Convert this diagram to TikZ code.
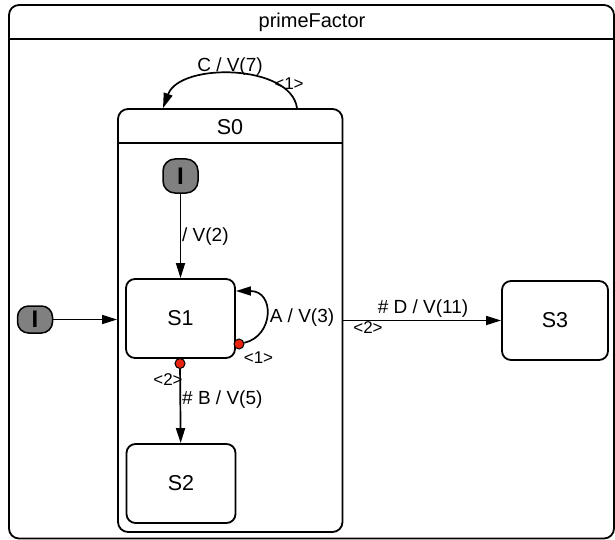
\documentclass[tikz,border=0pt]{standalone}
\usepackage{fontspec}
\setmainfont{Liberation Sans}
\usetikzlibrary{arrows.meta,positioning}
\definecolor{sfgray}{RGB}{128,128,128}
\definecolor{sfred}{RGB}{232,36,16}

\begin{document}
\begin{tikzpicture}[x=1pt,y=-1pt,
  box/.style={draw,line width=1.8pt,rounded corners=10pt,inner sep=0pt},
  state/.style={box,rounded corners=9pt,minimum width=109pt,minimum height=79pt,font=\fontsize{21.5}{24}\selectfont},
  init/.style={draw,line width=1.5pt,fill=sfgray,rounded corners=12pt,inner sep=0pt,minimum width=35pt,font=\bfseries\fontsize{24}{26}\selectfont},
  trans/.style={line width=1.7pt,-{Triangle[length=15pt,width=9pt]}},
  lbl/.style={font=\fontsize{19}{22}\selectfont,inner sep=1pt},
  prio/.style={font=\fontsize{17}{19}\selectfont,inner sep=1pt},
  port/.style={circle,draw,fill=sfred,line width=1pt,minimum size=10pt,inner sep=0pt}]
\useasboundingbox (0,0) rectangle (615,540);
% Outer region: primeFactor
\node[box,minimum width=605pt,minimum height=533.5pt] (pf) at (311.5,271.75) {};
\draw[line width=1.8pt] (pf.west |- 0,39) -- (pf.east |- 0,39);
\node[font=\fontsize{20}{24}\selectfont] (pfTitle) at (312,22) {primeFactor};
% Composite state S0
\node[box,minimum width=224.5pt,minimum height=423pt] (S0) at (230.25,320.5) {};
\draw[line width=1.8pt] (S0.west |- 0,143) -- (S0.east |- 0,143);
\node[font=\fontsize{21.5}{24}\selectfont] (S0Title) at (230,127) {S0};
% Simple states
\node[state] (S1) at (180.5,318.5) {S1};
\node[state] (S2) at (181,483.5) {S2};
\node[state,minimum width=106pt] (S3) at (555,320.5) {S3};
% Initial pseudo states
\node[init,minimum height=34pt] (initS0) at (180.5,176) {I};
\node[init,minimum height=27pt,rounded corners=11pt] (initPf) at (35,319.5) {I};
% Ports with priorities
\node[port] (portA) at (239,344) {};
\node[port] (portB) at (180,363.5) {};
% Transitions
\draw[trans] (initPf.east) -- (initPf.east -| S0.west);
\draw[trans] (initS0) -- (S1);
\node[lbl,anchor=west] (lblV2) at (181,237) {/ V(2)};
\draw[trans] (portA) .. controls (274,336) and (275,291) .. (S1.east |- 0,291);
\node[lbl] (lblA) at (302,318) {A / V(3)};
\node[prio] (prioA) at (258.5,358) {<1>};
\draw[trans] (portB) -- (S2);
\node[lbl,anchor=west] (lblB) at (181,400) {\# B / V(5)};
\node[prio] (prioB) at (168,380) {<2>};
\draw[trans] (S0.east |- S3) -- (S3);
\node[lbl] (lblD) at (423,309) {\# D / V(11)};
\node[prio] (prioD) at (368,328) {<2>};
\draw[trans] (S0.north -| 297,0) .. controls (291,64) and (180,62) .. (S0.north -| 163,0);
\node[lbl] (lblC) at (230,67) {C / V(7)};
\node[prio] (prioC) at (289,84) {<1>};
\end{tikzpicture}
\end{document}
